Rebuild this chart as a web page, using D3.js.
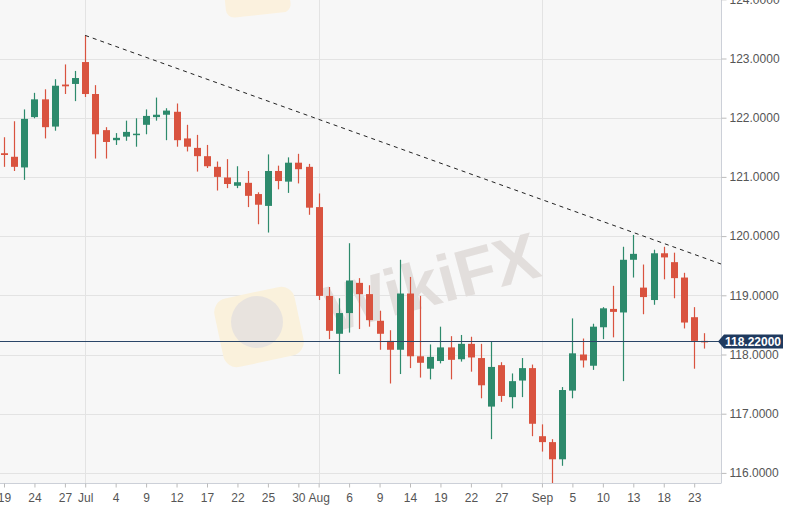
<!DOCTYPE html>
<meta charset="utf-8">
<style>
    body { margin: 0; background: #fff; }
    text { font-family: "Liberation Sans", Arial, sans-serif; }
</style>
<div id="chart"></div>
<script src="https://d3js.org/d3.v7.min.js"></script>
<script>
    // Trading days, Jun 19 - Sep 24
    var dates = [
        "2019-06-19","2019-06-20","2019-06-21","2019-06-24","2019-06-25","2019-06-26","2019-06-27","2019-06-28",
        "2019-07-01","2019-07-02","2019-07-03","2019-07-04","2019-07-05","2019-07-08","2019-07-09","2019-07-10",
        "2019-07-11","2019-07-12","2019-07-15","2019-07-16","2019-07-17","2019-07-18","2019-07-19","2019-07-22",
        "2019-07-23","2019-07-24","2019-07-25","2019-07-26","2019-07-29","2019-07-30","2019-07-31",
        "2019-08-01","2019-08-02","2019-08-05","2019-08-06","2019-08-07","2019-08-08","2019-08-09","2019-08-12",
        "2019-08-13","2019-08-14","2019-08-15","2019-08-16","2019-08-19","2019-08-20","2019-08-21","2019-08-22",
        "2019-08-23","2019-08-26","2019-08-27","2019-08-28","2019-08-29","2019-08-30",
        "2019-09-02","2019-09-03","2019-09-04","2019-09-05","2019-09-06","2019-09-09","2019-09-10","2019-09-11",
        "2019-09-12","2019-09-13","2019-09-16","2019-09-17","2019-09-18","2019-09-19","2019-09-20","2019-09-23",
        "2019-09-24"
    ];
    var open = [
        121.40,121.34,121.16,122.01,122.31,121.85,122.56,122.57,
        122.94,122.40,121.79,121.62,121.68,121.71,121.88,122.01,
        122.05,122.10,121.65,121.49,121.35,121.17,120.99,120.85,
        120.90,120.71,120.51,121.10,120.92,121.24,121.17,
        120.49,118.99,118.35,118.70,119.21,119.02,118.57,118.23,
        118.08,119.03,117.97,117.76,117.89,118.12,117.92,118.18,
        117.94,117.12,117.82,117.28,117.56,117.77,
        116.62,116.52,116.23,117.39,118.00,117.81,118.46,118.77,
        118.71,119.60,119.13,118.92,119.71,119.56,119.30,118.63,
        118.23
    ];
    var high = [
        121.67,121.94,122.14,122.42,122.48,122.65,122.90,122.79,
        123.39,122.55,121.84,121.74,121.95,121.99,122.14,122.34,
        122.16,122.24,121.88,121.71,121.54,121.26,121.30,121.18,
        121.10,120.74,121.38,121.19,121.33,121.39,121.22,
        120.72,119.14,118.95,119.88,119.29,119.17,118.74,118.41,
        119.60,119.31,118.99,118.17,118.47,118.31,118.33,118.30,
        118.18,118.22,117.87,117.68,117.94,117.83,
        116.82,116.57,117.45,118.61,118.27,118.52,118.80,119.16,
        119.82,120.02,119.52,119.77,119.82,119.72,119.38,118.80,
        118.36
    ];
    var low = [
        121.17,121.10,120.95,121.99,121.65,121.78,122.40,122.28,
        122.35,121.31,121.31,121.54,121.61,121.51,121.72,121.95,
        121.62,121.51,121.43,121.09,121.15,120.77,120.81,120.81,
        120.49,120.20,120.06,120.79,120.73,120.89,120.36,
        118.92,118.26,117.67,118.37,118.43,118.47,118.08,117.51,
        117.67,117.77,117.61,117.58,117.85,117.58,117.88,117.71,
        117.26,116.57,117.20,117.09,117.28,116.62,
        116.36,115.80,116.12,117.26,117.78,117.74,118.26,118.29,
        117.55,119.30,118.68,118.84,119.27,118.95,118.44,117.76,
        118.10
    ];
    var close = [
        121.37,121.17,121.98,122.31,121.84,122.54,122.53,122.67,
        122.40,121.72,121.59,121.66,121.76,121.73,122.03,122.05,
        122.12,121.62,121.51,121.35,121.18,121.00,120.88,120.91,
        120.68,120.53,121.10,120.93,121.24,121.13,120.48,
        118.99,118.40,118.70,119.25,119.02,118.58,118.35,118.08,
        119.03,117.97,117.86,117.96,118.12,117.91,118.18,117.95,
        117.48,117.79,117.30,117.55,117.77,116.83,
        116.52,116.23,117.40,118.02,117.90,118.47,118.78,118.72,
        119.60,119.70,118.97,119.71,119.64,119.29,118.54,118.23,
        118.22
    ];

    var tickDates = ["2019-06-19","2019-06-24","2019-06-27","2019-07-01","2019-07-04","2019-07-09","2019-07-12",
        "2019-07-17","2019-07-22","2019-07-25","2019-07-30","2019-08-01","2019-08-06","2019-08-09","2019-08-14",
        "2019-08-19","2019-08-22","2019-08-27","2019-09-02","2019-09-05","2019-09-10","2019-09-13","2019-09-18",
        "2019-09-23"];
    var tickLabels = ["19","24","27","Jul","4","9","12","17","22","25","30","Aug","6","9","14","19","22","27",
        "Sep","5","10","13","18","23"];
    var monthStarts = ["2019-07-01","2019-08-01","2019-09-02"];
    var priceTicks = [116, 117, 118, 119, 120, 121, 122, 123, 124];
    var lastPrice = 118.22;
    // trend line anchors: [date, price]
    var trendFrom = ["2019-07-01", 123.39];
    var trendTo = ["2019-09-24", 119.63];

    var W = 796, H = 509;
    var plotW = 721, plotH = 483;
    var red = "#d9533f", green = "#2d8a6c", navy = "#1f3a5f";

    var svg = d3.select("#chart").append("svg")
        .attr("width", W)
        .attr("height", H);

    var x = d3.scalePoint()
        .domain(dates)
        .range([4, 4 + 10.15 * (dates.length - 1)]);

    var y = d3.scaleLinear()
        .domain([116, 123])
        .range([472.9, 58.5]);

    svg.append("rect")
        .attr("width", plotW).attr("height", plotH)
        .attr("fill", "#f7f7f7");

    svg.append("defs").append("clipPath").attr("id", "clip")
        .append("rect").attr("width", plotW).attr("height", plotH);

    var plot = svg.append("g").attr("clip-path", "url(#clip)");

    // grid
    plot.selectAll(".hgrid")
        .data(priceTicks)
        .enter().append("line")
        .attr("x1", 0).attr("x2", plotW)
        .attr("y1", function(d) { return Math.round(y(d)) + 0.5; })
        .attr("y2", function(d) { return Math.round(y(d)) + 0.5; })
        .attr("stroke", "#e3e3e3");

    plot.selectAll(".vgrid")
        .data(monthStarts)
        .enter().append("line")
        .attr("x1", function(d) { return Math.round(x(d)) + 0.5; })
        .attr("x2", function(d) { return Math.round(x(d)) + 0.5; })
        .attr("y1", 0).attr("y2", plotH)
        .attr("stroke", "#e3e3e3");

    // watermark
    var wm = plot.append("g");
    wm.append("rect")
        .attr("x", 225).attr("y", -20).attr("width", 65).attr("height", 35).attr("rx", 8)
        .attr("fill", "#fbf1de")
        .attr("transform", "rotate(-6,257,0)");
    wm.append("rect")
        .attr("x", 218).attr("y", 292).attr("width", 82).attr("height", 70).attr("rx", 14)
        .attr("fill", "#faf1dc")
        .attr("transform", "rotate(-12,259,327)");
    wm.append("circle")
        .attr("cx", 257).attr("cy", 322).attr("r", 26)
        .attr("fill", "#e8e3de");
    wm.append("text")
        .attr("x", 432).attr("y", 305)
        .attr("text-anchor", "middle")
        .attr("transform", "rotate(-15,432,285)")
        .style("font-size", "66px")
        .style("font-weight", "bold")
        .style("fill", "#e2dedc")
        .text("WikiFX");

    // candles
    var idx = d3.range(dates.length);
    var candles = plot.selectAll(".candle")
        .data(idx)
        .enter().append("g");

    candles.append("line")
        .attr("x1", function(i) { return Math.round(x(dates[i])) + 0.5; })
        .attr("x2", function(i) { return Math.round(x(dates[i])) + 0.5; })
        .attr("y1", function(i) { return y(high[i]); })
        .attr("y2", function(i) { return y(low[i]); })
        .attr("stroke", function(i) { return close[i] >= open[i] ? green : red; })
        .attr("stroke-width", 1.2);

    candles.append("rect")
        .attr("x", function(i) { return Math.round(x(dates[i])) - 3; })
        .attr("width", 7)
        .attr("y", function(i) { return y(Math.max(open[i], close[i])); })
        .attr("height", function(i) { return Math.max(1.5, Math.abs(y(open[i]) - y(close[i]))); })
        .attr("fill", function(i) { return close[i] >= open[i] ? green : red; });

    // dashed trend line, extended to the right edge
    var tx0 = x(trendFrom[0]), ty0 = y(trendFrom[1]);
    var tx1 = x(trendTo[0]), ty1 = y(trendTo[1]);
    var slope = (ty1 - ty0) / (tx1 - tx0);
    plot.append("line")
        .attr("x1", tx0).attr("y1", ty0)
        .attr("x2", plotW).attr("y2", ty0 + slope * (plotW - tx0))
        .attr("stroke", "#222")
        .attr("stroke-width", 1)
        .attr("stroke-dasharray", "4,4");

    // last price line
    var py = Math.round(y(lastPrice)) + 0.5;
    plot.append("line")
        .attr("x1", 0).attr("x2", plotW)
        .attr("y1", py).attr("y2", py)
        .attr("stroke", "#2a4668")
        .attr("stroke-width", 1);

    // y axis
    var yAxis = svg.append("g")
        .attr("transform", "translate(" + (plotW + 0.5) + ",0)")
        .call(d3.axisRight(y).tickValues(priceTicks).tickSize(5).tickPadding(3)
            .tickFormat(function(d) { return d.toFixed(4); }));
    yAxis.select(".domain").attr("stroke", "#ccd0d8").attr("d", "M0,0V" + plotH);
    yAxis.selectAll(".tick line").attr("stroke", "#bbb");
    yAxis.selectAll("text")
        .style("font-size", "12px")
        .style("fill", "#555");

    // x axis
    var xAxis = svg.append("g")
        .attr("transform", "translate(0," + (plotH + 0.5) + ")")
        .call(d3.axisBottom(x).tickValues(tickDates).tickSize(4).tickPadding(6)
            .tickFormat(function(d) { return tickLabels[tickDates.indexOf(d)]; }));
    xAxis.select(".domain").attr("stroke", "#ccd0d8").attr("d", "M0,0H" + (plotW + 0.5));
    xAxis.selectAll(".tick line").attr("stroke", "#bbb");
    xAxis.selectAll("text")
        .style("font-size", "12px")
        .style("fill", "#555");

    // last price label
    var lab = svg.append("g");
    lab.append("path")
        .attr("d", "M718," + py + "L724," + (py - 7) + "H783V" + (py + 7) + "H724Z")
        .attr("fill", navy);
    lab.append("text")
        .attr("x", 753).attr("y", py + 4.5)
        .attr("text-anchor", "middle")
        .style("font-size", "12px")
        .style("font-weight", "bold")
        .style("fill", "#fff")
        .text(lastPrice.toFixed(5));
</script>
